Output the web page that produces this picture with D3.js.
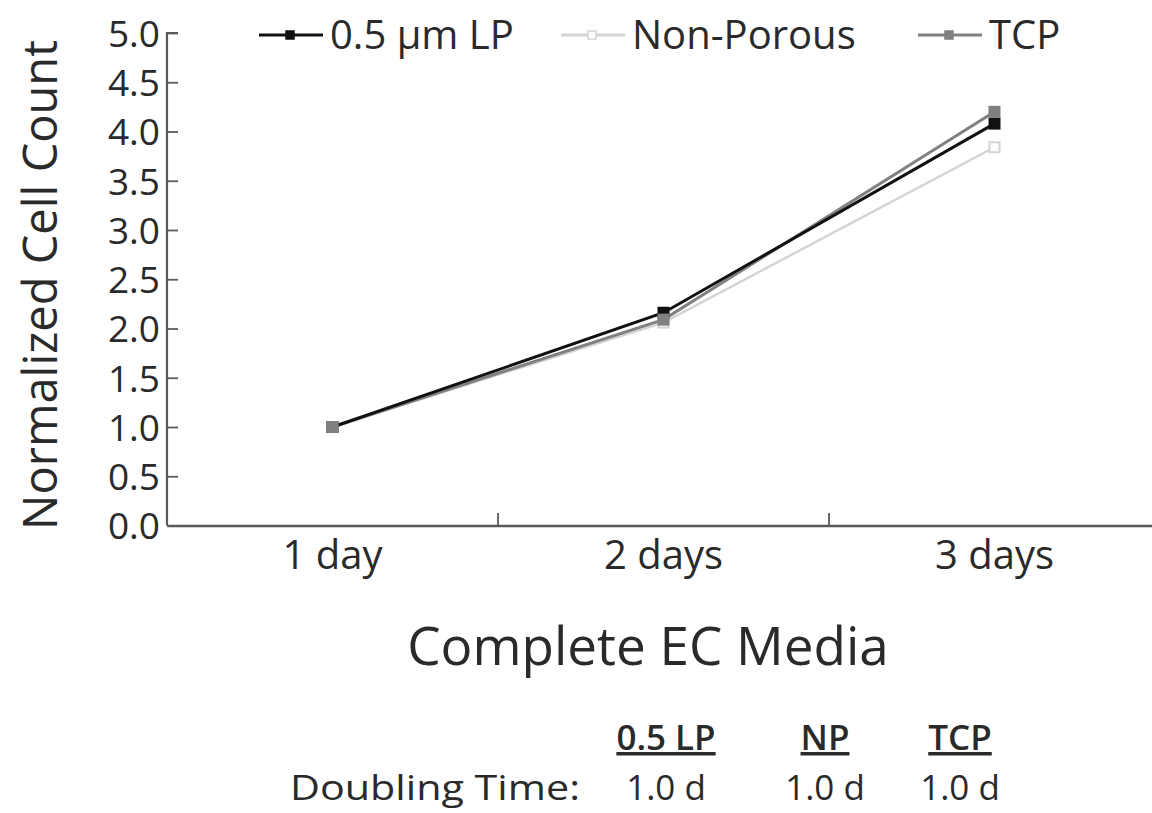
<!DOCTYPE html>
<html><head><meta charset="utf-8">
<script src="https://cdn.jsdelivr.net/npm/d3@7"></script>
<style>body{margin:0;background:#fff}svg{display:block}text{font-family:"Open Sans",sans-serif;fill:#2a2a2a}</style>
</head><body><svg id="c" width="1152" height="813"></svg>
<script>
const categories = ["1 day", "2 days", "3 days"];
const seriesNames = ["0.5 µm LP", "Non-Porous", "TCP"];
const lpValues = [1.0, 2.16, 4.08];
const npValues = [1.0, 2.06, 3.84];
const tcpValues = [1.0, 2.09, 4.20];
const yTicks = [0, 0.5, 1, 1.5, 2, 2.5, 3, 3.5, 4, 4.5, 5];
const tableHeaders = ["0.5 LP", "NP", "TCP"];
const doublingTimes = ["1.0 d", "1.0 d", "1.0 d"];

const series = [
  {name: seriesNames[0], values: lpValues, stroke: "#111", fill: "#111"},
  {name: seriesNames[1], values: npValues, stroke: "#d4d4d4", fill: "#fff"},
  {name: seriesNames[2], values: tcpValues, stroke: "#808080", fill: "#808080"}
];

const svg = d3.select("#c");
const x = d3.scaleBand().domain(categories).range([167, 1160]);
const y = d3.scaleLinear().domain([0, 5]).range([525.5, 33]);

// y axis
const ya = svg.append("g").attr("transform", "translate(167,0)")
  .call(d3.axisRight(y).tickValues(yTicks).tickSize(11).tickFormat(d3.format(".1f")));
ya.select(".domain").attr("stroke", "#5a5a5a").attr("stroke-width", 2.2).attr("d", `M11,${y(5)}H0V${y(0)}`);
ya.selectAll(".tick line").attr("stroke", "#5a5a5a").attr("stroke-width", 1.8);
ya.selectAll(".tick text").attr("x", -7).attr("text-anchor", "end").attr("dy", "0.36em")
  .style("font-size", "37px").style("fill", "#2a2a2a");

// x axis
const xa = svg.append("g").attr("transform", "translate(0,525.5)")
  .call(d3.axisBottom(x).tickSize(0));
xa.select(".domain").attr("stroke", "#5a5a5a").attr("stroke-width", 2.5);
xa.selectAll(".tick text").attr("dy", 0).attr("y", 43).style("font-size", "40px").style("fill", "#2a2a2a");
const bounds = categories.slice(1).map(c => x(c));
svg.append("g").selectAll("line").data(bounds).join("line")
  .attr("x1", d => d).attr("x2", d => d).attr("y1", 525.5).attr("y2", 513)
  .attr("stroke", "#5a5a5a").attr("stroke-width", 1.8);

// axis titles
svg.append("text").attr("transform", `translate(57,285) rotate(-90)`)
  .attr("text-anchor", "middle").style("font-size", "47px").text("Normalized Cell Count");
svg.append("text").attr("x", 648).attr("y", 665).attr("text-anchor", "middle")
  .style("font-size", "53px").text("Complete EC Media");

// lines
const line = d3.line().x((d, i) => x(categories[i]) + x.bandwidth() / 2).y(d => y(d));
[1, 2, 0].forEach(k => {
  const s = series[k];
  svg.append("path").datum(s.values).attr("d", line).attr("fill", "none")
    .attr("stroke", s.stroke).attr("stroke-width", k === 1 ? 2.5 : 3);
});
[1, 0, 2].forEach(k => {
  const s = series[k];
  svg.append("g").selectAll("rect").data(s.values).join("rect")
    .attr("x", (d, i) => x(categories[i]) + x.bandwidth() / 2 - 5)
    .attr("y", d => y(d) - 5).attr("width", 10).attr("height", 10)
    .attr("fill", s.fill).attr("stroke", s.stroke).attr("stroke-width", 2);
});

// legend
const legX = [259, 561, 918];
series.forEach((s, k) => {
  const g = svg.append("g").attr("transform", `translate(${legX[k]},35)`);
  g.append("line").attr("x1", 0).attr("x2", 64).attr("stroke", s.stroke).attr("stroke-width", 3);
  g.append("rect").attr("x", 27).attr("y", -4).attr("width", 8).attr("height", 8)
    .attr("fill", s.fill).attr("stroke", s.stroke).attr("stroke-width", 1.5);
  g.append("text").attr("x", 71).attr("dy", "0.36em").style("font-size", "40px").text(s.name);
});

// doubling time table
const colX = [666, 825, 960];
svg.append("g").selectAll("text").data(tableHeaders).join("text")
  .attr("x", (d, i) => colX[i]).attr("y", 750).attr("text-anchor", "middle")
  .style("font-size", "35px").style("font-weight", "600").style("text-decoration", "underline").text(d => d);
svg.append("text").attr("x", 290).attr("y", 800)
  .attr("textLength", 290).attr("lengthAdjust", "spacingAndGlyphs")
  .style("font-size", "35px").text("Doubling Time:");
svg.append("g").selectAll("text").data(doublingTimes).join("text")
  .attr("x", (d, i) => colX[i]).attr("y", 800).attr("text-anchor", "middle")
  .style("font-size", "35px").text(d => d);
</script></body></html>
